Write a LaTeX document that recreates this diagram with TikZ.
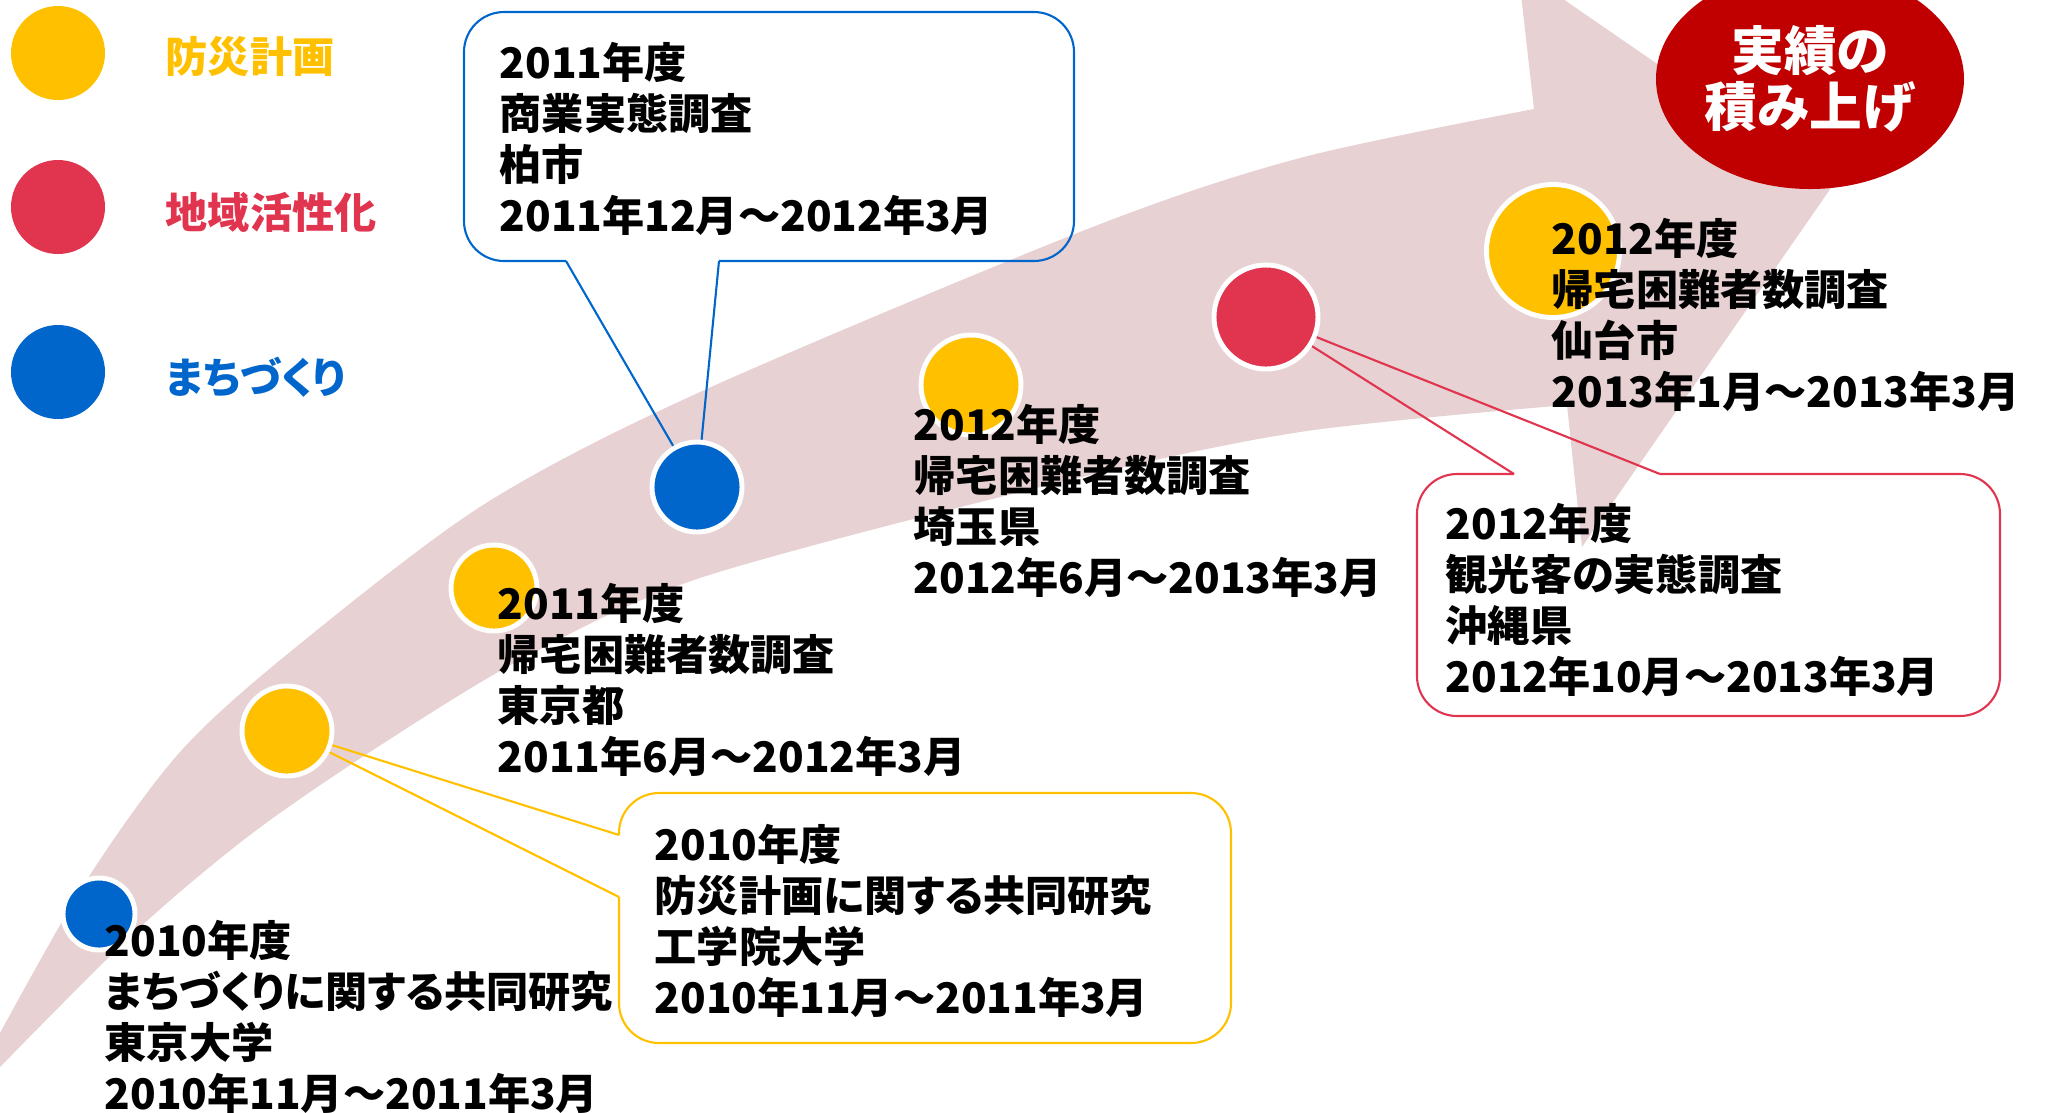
\documentclass[tikz,border=0pt]{standalone}
\usepackage{fontspec}
\setmainfont{Noto Sans CJK JP}[RawFeature=+palt]
\usetikzlibrary{shapes.geometric}
\definecolor{bousai}{HTML}{FFC000}
\definecolor{chiiki}{HTML}{E0344F}
\definecolor{machi}{HTML}{0066CC}
\definecolor{arrowpink}{HTML}{E7D1D2}
\definecolor{jisseki}{HTML}{C00000}
\tikzset{ dot/.style = { circle % project
        , draw = white
        , line width = 1.4pt
        , inner sep = 0pt
        }
        , key/.style = { circle % legend mark
        , inner sep = 0pt
        , minimum size = 9.4mm
        }
        , keytext/.style = { anchor = west % legend text
        , inner sep = 0pt
        , font = \fontsize{12}{14}\selectfont\bfseries
        }
        }

\begin{document}
\begin{tikzpicture}[x=0.1mm, y=-0.1mm,
        label_style/.style={anchor=west,align=left,inner sep=0pt,font=\fontsize{12}{14.5}\selectfont\bfseries},
        box_style/.style={line width=0.6pt,rounded corners=4mm},
        wedge_style/.style={line width=0.6pt},
        goal_style/.style={ellipse,fill=jisseki,text=white,align=center,inner sep=0pt,minimum width=30.8mm,minimum height=22mm,font=\fontsize{15}{16}\selectfont\bfseries}]
        \useasboundingbox (0,0) rectangle (2049,1112);

        % big arrow
        \fill[arrowpink] plot[smooth] coordinates {(0,1033) (88,878) (180,752) (290,652) (483,505) (700,392) (1090,228) (1300,158) (1534,109)}
                -- (1518,-32) -- (1833,185) -- (1582,547) -- (1567,405)
                -- plot[smooth] coordinates {(1567,405) (1300,432) (1057,483) (700,578) (520,660) (370,752) (250,835) (137,930) (0,1067)} -- cycle;

        \coordinate (p1) at (99,914);
        \coordinate (p2) at (287,731);
        \coordinate (p3) at (494,588);
        \coordinate (p4) at (697,487);
        \coordinate (p5) at (971,385);
        \coordinate (p6) at (1266,317);
        \coordinate (p7) at (1553,251);

        % callouts
        \coordinate (w4a) at (566,261);
        \coordinate (w4b) at (719,261);
        \draw[box_style,draw=machi] (w4b) -- (1074,261) -- (1074,12) -- (464,12) -- (464,261) -- (w4a);
        \draw[wedge_style,draw=machi] (w4a) -- (p4) -- (w4b);

        \coordinate (w2a) at (619,835);
        \coordinate (w2b) at (619,897);
        \draw[box_style,draw=bousai] (w2b) -- (619,1043) -- (1231,1043) -- (1231,793) -- (619,793) -- (w2a);
        \draw[wedge_style,draw=bousai] (w2a) -- (p2) -- (w2b);

        \coordinate (w6a) at (1514,474);
        \coordinate (w6b) at (1660,474);
        \draw[box_style,draw=chiiki] (w6b) -- (2000,474) -- (2000,716) -- (1417,716) -- (1417,474) -- (w6a);
        \draw[wedge_style,draw=chiiki] (w6a) -- (p6) -- (w6b);

        \node[dot,fill=machi,minimum size=7.2mm] (n1) at (p1) {};
        \node[dot,fill=bousai,minimum size=9.0mm] (n2) at (p2) {};
        \node[dot,fill=bousai,minimum size=8.6mm] (n3) at (p3) {};
        \node[dot,fill=machi,minimum size=9.0mm] (n4) at (p4) {};
        \node[dot,fill=bousai,minimum size=10.0mm] (n5) at (p5) {};
        \node[dot,fill=chiiki,minimum size=10.4mm] (n6) at (p6) {};
        \node[dot,fill=bousai,minimum size=13.3mm] (n7) at (p7) {};

        \node[goal_style] (goal) at (1810,79) {実績の\\積み上げ};

        % legend
        \node[key,fill=bousai] (k1) at (58,53) {};
        \node[key,fill=chiiki] (k2) at (58,207) {};
        \node[key,fill=machi] (k3) at (58,372) {};
        \node[keytext,text=bousai] (t1) at (165,57) {防災計画};
        \node[keytext,text=chiiki] (t2) at (165,212) {地域活性化};
        \node[keytext,text=machi] (t3) at (165,377) {まちづくり};

        % labels
        \node[label_style] (l1) at (104,1017) {2010年度\\まちづくりに関する共同研究\\東京大学\\2010年11月～2011年3月};
        \node[label_style] (l3) at (497,680) {2011年度\\帰宅困難者数調査\\東京都\\2011年6月～2012年3月};
        \node[label_style] (l5) at (913,501) {2012年度\\帰宅困難者数調査\\埼玉県\\2012年6月～2013年3月};
        \node[label_style] (l7) at (1551,315) {2012年度\\帰宅困難者数調査\\仙台市\\2013年1月～2013年3月};
        \node[label_style] (b4) at (499,139) {2011年度\\商業実態調査\\柏市\\2011年12月～2012年3月};
        \node[label_style] (b2) at (654,921) {2010年度\\防災計画に関する共同研究\\工学院大学\\2010年11月～2011年3月};
        \node[label_style] (b6) at (1445,600) {2012年度\\観光客の実態調査\\沖縄県\\2012年10月～2013年3月};
\end{tikzpicture}
\end{document}
